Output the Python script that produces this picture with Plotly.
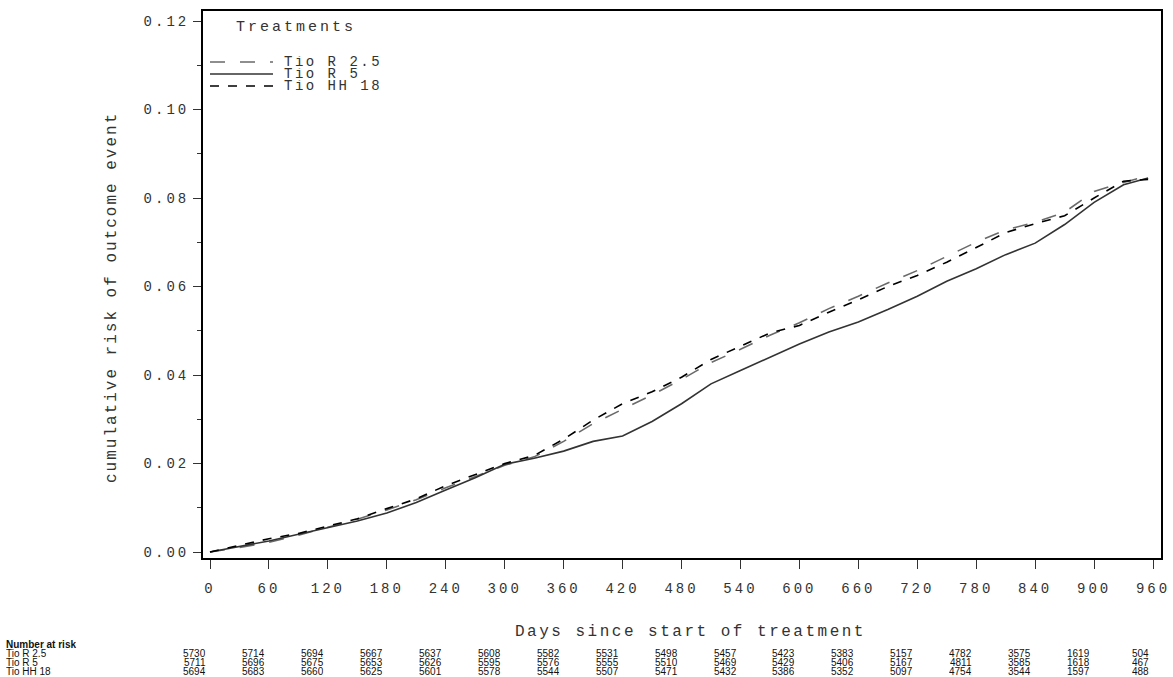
import plotly.graph_objects as go

# ---- data ----
days = [0, 30, 60, 90, 120, 150, 180, 210, 240, 270, 300, 330, 360, 390, 420, 450,
        480, 510, 540, 570, 600, 630, 660, 690, 720, 750, 780, 810, 840, 870, 900, 930, 955]

risk_r25 = [0, 0.0010, 0.0022, 0.0038, 0.0056, 0.0074, 0.0095, 0.0118, 0.0145, 0.0170,
            0.0196, 0.0215, 0.0250, 0.0290, 0.0322, 0.0355, 0.0390, 0.0428, 0.0458, 0.0490,
            0.0518, 0.0550, 0.0578, 0.0608, 0.0636, 0.0668, 0.0700, 0.0728, 0.0745, 0.0768,
            0.0815, 0.0835, 0.0850]
risk_r5 = [0, 0.0012, 0.0025, 0.0040, 0.0055, 0.0070, 0.0088, 0.0112, 0.0140, 0.0168,
           0.0198, 0.0212, 0.0228, 0.0250, 0.0262, 0.0295, 0.0335, 0.0380, 0.0410, 0.0440,
           0.0470, 0.0497, 0.0520, 0.0548, 0.0578, 0.0612, 0.0640, 0.0672, 0.0698, 0.0740,
           0.0790, 0.0830, 0.0845]
risk_hh18 = [0, 0.0015, 0.0030, 0.0042, 0.0058, 0.0075, 0.0098, 0.0120, 0.0150, 0.0175,
             0.0200, 0.0218, 0.0255, 0.0298, 0.0335, 0.0362, 0.0395, 0.0435, 0.0465, 0.0495,
             0.0512, 0.0542, 0.0570, 0.0600, 0.0625, 0.0655, 0.0688, 0.0722, 0.0742, 0.0760,
             0.0800, 0.0838, 0.0842]

series_names = ["Tio R 2.5", "Tio R 5", "Tio HH 18"]

tick_days = [0, 60, 120, 180, 240, 300, 360, 420, 480, 540, 600, 660, 720, 780, 840, 900, 960]
at_risk_r25 = [5730, 5714, 5694, 5667, 5637, 5608, 5582, 5531, 5498, 5457, 5423, 5383, 5157, 4782, 3575, 1619, 504]
at_risk_r5 = [5711, 5696, 5675, 5653, 5626, 5595, 5576, 5555, 5510, 5469, 5429, 5406, 5167, 4811, 3585, 1618, 467]
at_risk_hh18 = [5694, 5683, 5660, 5625, 5601, 5578, 5544, 5507, 5471, 5432, 5386, 5352, 5097, 4754, 3544, 1597, 488]

y_ticks = [0.00, 0.02, 0.04, 0.06, 0.08, 0.10, 0.12]

# ---- styling ----
MONO = "Liberation Mono, DejaVu Sans Mono, monospace"
SANS = "Liberation Sans Narrow, Liberation Sans, Arial, sans-serif"
styles = [
    dict(color="#6a6a6a", width=1.6, dash="longdash"),
    dict(color="#333333", width=1.6, dash="solid"),
    dict(color="#000000", width=1.6, dash="dash"),
]


def spaced(txt, ls):
    return f'<span style="letter-spacing:{ls}px">{txt}</span>'


fig = go.Figure()
for name, ys, st in zip(series_names, [risk_r25, risk_r5, risk_hh18], styles):
    fig.add_trace(go.Scatter(x=days, y=ys, mode="lines", name=name, line=st,
                             showlegend=False))

W, H = 1173, 677
L, R, T, B = 203, 12, 11, 119
pw, ph = W - L - R, H - T - B

def px_to_paper_x(px):
    return (px - L) / pw

def py_to_paper_y(py):
    return 1 - (py - T) / ph

fig.update_layout(
    width=W, height=H,
    margin=dict(l=L, r=R, t=T, b=B, autoexpand=False),
    paper_bgcolor="white", plot_bgcolor="white",
    font=dict(family=MONO, size=15, color="#333333"),
    xaxis=dict(
        range=[-7.13, 968.1], tickmode="array", tickvals=tick_days,
        ticktext=[spaced(str(d), 3) for d in tick_days],
        ticks="outside", ticklen=9, tickwidth=1, tickcolor="#333",
        showline=True, linecolor="black", linewidth=2, mirror=True,
        showgrid=False, zeroline=False,
        tickfont=dict(family=MONO, size=14, color="#333"),
        ticklabelstandoff=7,
    ),
    yaxis=dict(
        range=[-0.001356, 0.12226], tickmode="array", tickvals=y_ticks,
        ticktext=[spaced(f"{v:.2f}", 3) for v in y_ticks],
        ticks="outside", ticklen=8, tickwidth=1, tickcolor="#333",
        minor=dict(tickvals=[0.01, 0.03, 0.05, 0.07, 0.09, 0.11], ticks="outside",
                   ticklen=4, tickcolor="#333", showgrid=False),
        showline=True, linecolor="black", linewidth=2, mirror=True,
        showgrid=False, zeroline=False,
        tickfont=dict(family=MONO, size=14, color="#333"),
        ticklabelstandoff=1,
    ),
)

ann = []
# axis titles
ann.append(dict(text=spaced("Days since start of treatment", 2.5), xref="paper", yref="paper",
                x=px_to_paper_x(690), y=py_to_paper_y(632), xanchor="center", yanchor="middle",
                showarrow=False, font=dict(family=MONO, size=16, color="#333")))
ann.append(dict(text=spaced("cumulative risk of outcome event", 2), xref="paper", yref="paper",
                x=px_to_paper_x(112), y=py_to_paper_y(298), xanchor="center", yanchor="middle",
                textangle=-90, showarrow=False, font=dict(family=MONO, size=16, color="#333")))

# legend (manual, inside top-left)
ann.append(dict(text=spaced("Treatments", 3), xref="paper", yref="paper",
                x=px_to_paper_x(234), y=py_to_paper_y(27), xanchor="left", yanchor="middle",
                showarrow=False, font=dict(family=MONO, size=15, color="#333")))
legend_y = [62, 74, 86]
shapes = []
for name, st, ly in zip(series_names, styles, legend_y):
    shapes.append(dict(type="line", xref="paper", yref="paper",
                       x0=px_to_paper_x(210), x1=px_to_paper_x(273),
                       y0=py_to_paper_y(ly), y1=py_to_paper_y(ly),
                       line=dict(color=st["color"], width=1.4, dash=st["dash"])))
    ann.append(dict(text=spaced(name, 2.5), xref="paper", yref="paper", height=12,
                    x=px_to_paper_x(282), y=py_to_paper_y(ly), xanchor="left", yanchor="middle",
                    showarrow=False, font=dict(family=MONO, size=14, color="#333")))

# number at risk table
TFS = 10
ann.append(dict(text="<b>Number at risk</b>", xref="paper", yref="paper", height=9,
                x=px_to_paper_x(4), y=py_to_paper_y(644), xanchor="left", yanchor="middle",
                showarrow=False, font=dict(family=SANS, size=TFS, color="#111")))
row_y = [653, 662, 671]
for name, counts, ry in zip(series_names, [at_risk_r25, at_risk_r5, at_risk_hh18], row_y):
    ann.append(dict(text=name, xref="paper", yref="paper", height=9,
                    x=px_to_paper_x(4), y=py_to_paper_y(ry), xanchor="left", yanchor="middle",
                    showarrow=False, font=dict(family=SANS, size=TFS, color="#111")))
    for d, c in zip(tick_days, counts):
        ann.append(dict(text=str(c), xref="x", yref="paper", height=9,
                        x=d - 2, y=py_to_paper_y(ry), xanchor="right", yanchor="middle",
                        showarrow=False, font=dict(family=SANS, size=TFS, color="#111")))

fig.update_layout(annotations=ann, shapes=shapes)
fig.write_html("out.html", config={"displayModeBar": False},
               post_script="document.body.style.margin='0';")
